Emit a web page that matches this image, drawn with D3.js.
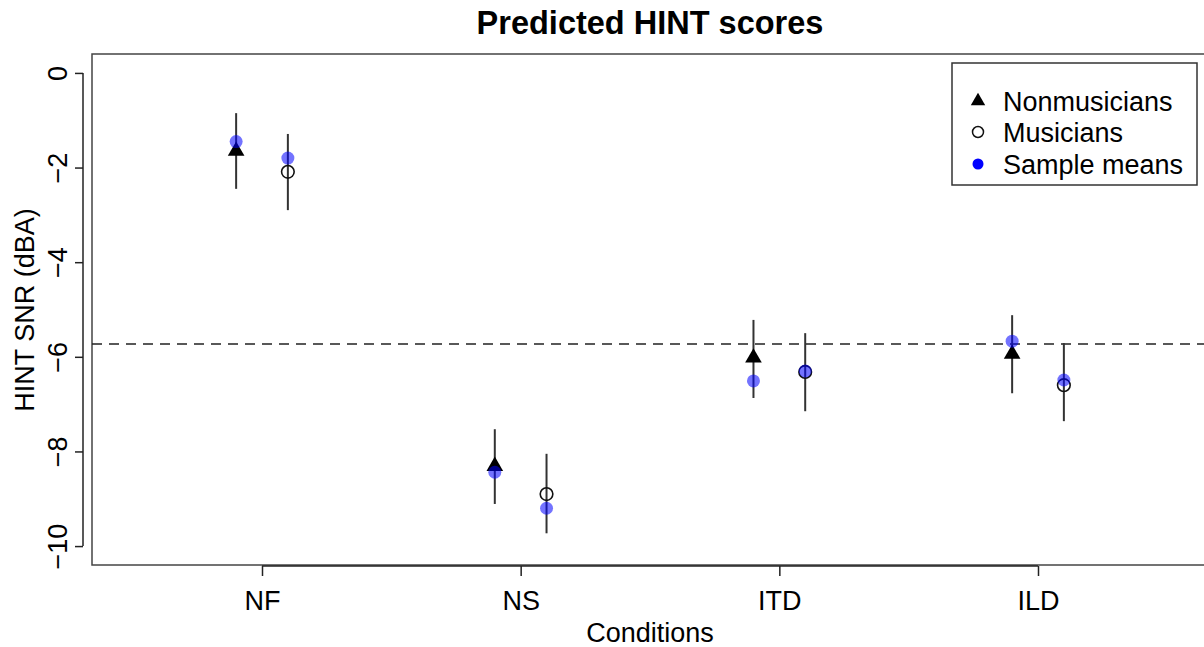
<!DOCTYPE html>
<html>
<head>
<meta charset="utf-8">
<script src="https://cdn.jsdelivr.net/npm/d3@7"></script>
<style>
  html, body { margin: 0; padding: 0; background: #fff; }
  svg { display: block; font-family: "Liberation Sans", Arial, Helvetica, sans-serif; }
</style>
</head>
<body>
<svg id="chart" width="1204" height="647"></svg>
<script>
// ---- data ----
const conditions = ["NF", "NS", "ITD", "ILD"];
const nonmusEst  = [-1.63, -8.29, -6.00, -5.92];
const nonmusLo   = [-2.45, -9.11, -6.87, -6.77];
const nonmusHi   = [-0.85, -7.53, -5.22, -5.12];
const musEst     = [-2.09, -8.90, -6.32, -6.60];
const musLo      = [-2.90, -9.73, -7.15, -7.36];
const musHi      = [-1.29, -8.05, -5.50, -5.71];
const nonmusMean = [-1.45, -8.44, -6.51, -5.67];
const musMean    = [-1.80, -9.20, -6.30, -6.49];
const refLine    = -5.73;
const yTicks     = [0, -2, -4, -6, -8, -10];
const legendLabels = ["Nonmusicians", "Musicians", "Sample means"];

// ---- layout ----
const svg = d3.select("#chart");
const box = { left: 92, right: 1210, top: 54, bottom: 565 };

const x = d3.scaleLinear().domain([1, 4]).range([262, 1038]);
const y = d3.scaleLinear().domain([-10.4, 0.4]).range([box.bottom, box.top]);
const off = 0.1;

// title
svg.append("text").attr("x", 650).attr("y", 34)
  .attr("text-anchor", "middle").attr("font-weight", "bold")
  .attr("font-size", 32.5).attr("fill", "#000").text("Predicted HINT scores");

// plot box
svg.append("rect").attr("x", box.left).attr("y", box.top)
  .attr("width", box.right - box.left).attr("height", box.bottom - box.top)
  .attr("fill", "none").attr("stroke", "#444").attr("stroke-width", 1.5);

// y axis (offset from box)
const yAxis = d3.axisLeft(y).tickValues(yTicks).tickSize(8).tickFormat(d3.format("d"));
const yg = svg.append("g").attr("transform", `translate(83,0)`).call(yAxis);
yg.select(".domain").attr("d", `M0,${y(0)}V${y(-10)}`).attr("stroke", "#222").attr("stroke-width", 1.5);
yg.selectAll(".tick line").attr("stroke", "#222").attr("stroke-width", 1.5);
yg.selectAll(".tick text")
  .attr("font-size", 27).attr("fill", "#000")
  .attr("x", 0).attr("dy", null)
  .attr("text-anchor", "middle")
  .attr("transform", "translate(-16,0) rotate(-90)")
  .attr("y", 0);
yg.attr("font-family", null);

// x axis
const xAxis = d3.axisBottom(x).tickValues([1, 2, 3, 4]).tickSize(10)
  .tickFormat((d, i) => conditions[i]);
const xg = svg.append("g").attr("transform", `translate(0,${box.bottom + 1})`).call(xAxis);
xg.select(".domain").attr("d", `M${x(1)},0H${x(4)}`).attr("stroke", "#222").attr("stroke-width", 1.5);
xg.selectAll(".tick line").attr("stroke", "#222").attr("stroke-width", 1.5);
xg.selectAll(".tick text").attr("font-size", 27).attr("fill", "#000").attr("y", 25).attr("dy", "0.71em");
xg.attr("font-family", null);

// axis titles
svg.append("text").attr("x", 650).attr("y", 642).attr("text-anchor", "middle")
  .attr("font-size", 27).attr("fill", "#000").text("Conditions");
svg.append("text").attr("transform", `translate(34,310) rotate(-90)`)
  .attr("text-anchor", "middle").attr("font-size", 27).attr("fill", "#000")
  .text("HINT SNR (dBA)");

// reference line
svg.append("line").attr("x1", box.left).attr("x2", 1204)
  .attr("y1", y(refLine)).attr("y2", y(refLine))
  .attr("stroke", "#222").attr("stroke-width", 1.5).attr("stroke-dasharray", "10,7");

// error bars
const idx = d3.range(conditions.length);
const plot = svg.append("g");
plot.selectAll(".errN").data(idx).join("line")
  .attr("x1", i => x(i + 1 - off)).attr("x2", i => x(i + 1 - off))
  .attr("y1", i => y(nonmusLo[i])).attr("y2", i => y(nonmusHi[i]))
  .attr("stroke", "#333").attr("stroke-width", 2);
plot.selectAll(".errM").data(idx).join("line")
  .attr("x1", i => x(i + 1 + off)).attr("x2", i => x(i + 1 + off))
  .attr("y1", i => y(musLo[i])).attr("y2", i => y(musHi[i]))
  .attr("stroke", "#333").attr("stroke-width", 2);

// triangles
const tri = d3.symbol().type(d3.symbolTriangle).size(120);
plot.selectAll(".triN").data(idx).join("path")
  .attr("d", tri)
  .attr("transform", i => `translate(${x(i + 1 - off)},${y(nonmusEst[i]) + 1})`)
  .attr("fill", "#000");

// open circles
plot.selectAll(".circM").data(idx).join("circle")
  .attr("cx", i => x(i + 1 + off)).attr("cy", i => y(musEst[i])).attr("r", 6.3)
  .attr("fill", "none").attr("stroke", "#111").attr("stroke-width", 1.6);

// sample means
plot.selectAll(".meanN").data(idx).join("circle")
  .attr("cx", i => x(i + 1 - off)).attr("cy", i => y(nonmusMean[i])).attr("r", 6.5)
  .attr("fill", "#0000ff").attr("fill-opacity", 0.55);
plot.selectAll(".meanM").data(idx).join("circle")
  .attr("cx", i => x(i + 1 + off)).attr("cy", i => y(musMean[i])).attr("r", 6.5)
  .attr("fill", "#0000ff").attr("fill-opacity", 0.55);

// legend
const lg = svg.append("g");
lg.append("rect").attr("x", 952).attr("y", 63).attr("width", 245).attr("height", 122)
  .attr("fill", "#fff").attr("stroke", "#333").attr("stroke-width", 1.5);
const rowY = [101, 132, 164];
legendLabels.forEach((lab, i) => {
  const cy = rowY[i];
  if (i === 0) {
    lg.append("path").attr("d", d3.symbol().type(d3.symbolTriangle).size(90))
      .attr("transform", `translate(978,${cy})`).attr("fill", "#000");
  } else if (i === 1) {
    lg.append("circle").attr("cx", 978).attr("cy", cy).attr("r", 5.5)
      .attr("fill", "none").attr("stroke", "#111").attr("stroke-width", 1.5);
  } else {
    lg.append("circle").attr("cx", 978).attr("cy", cy).attr("r", 5.5).attr("fill", "#0000ff");
  }
  lg.append("text").attr("x", 1003).attr("y", cy + 9.5)
    .attr("font-size", 27).attr("fill", "#000").text(lab);
});
</script>
</body>
</html>
